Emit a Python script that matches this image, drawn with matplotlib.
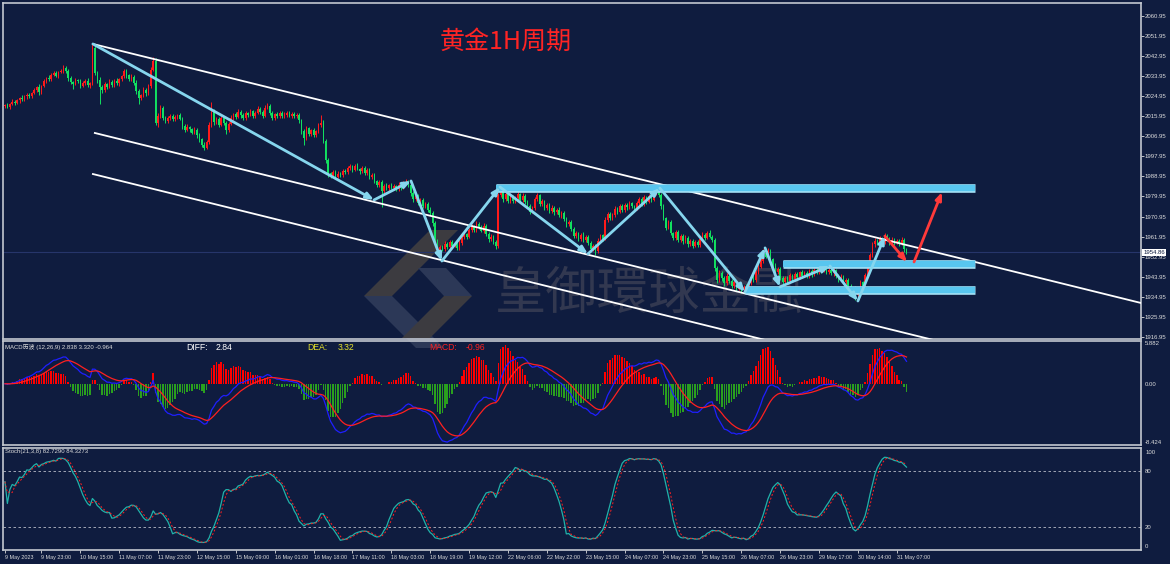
import numpy as np
import pandas as pd
import matplotlib
matplotlib.use('Agg')
import matplotlib.pyplot as plt
import matplotlib.transforms as mtransforms
from matplotlib.patches import Polygon

plt.rcParams['font.family'] = ['Liberation Sans', 'Noto Sans CJK SC', 'DejaVu Sans']

# ---------------- data: XAUUSD 1H, 9 May 08:00 -> 31 May 11:00 ----------------
closes = [
    2021.0, 2020.2, 2021.5, 2022.4, 2021.8, 2023.0, 2024.1, 2023.5, 2024.8, 2025.6,
    2025.0, 2026.3, 2027.5, 2028.9, 2026.8, 2029.5, 2031.8, 2033.2, 2032.4, 2034.6,
    2035.3, 2034.1, 2035.8, 2036.2, 2037.6, 2036.4, 2033.0, 2031.2, 2030.5, 2032.0,
    2031.5, 2029.6, 2030.8, 2031.9, 2029.8, 2030.6, 2046.5, 2035.5, 2032.2, 2029.0,
    2027.6, 2030.2, 2029.1, 2031.4, 2030.0, 2031.6, 2030.7, 2032.5, 2033.8, 2036.3,
    2034.2, 2032.5, 2033.6, 2031.0, 2027.3, 2024.1, 2025.5, 2027.8, 2026.2, 2029.4,
    2036.8, 2040.5, 2012.8, 2016.0, 2019.5, 2015.3, 2013.8, 2015.0, 2016.2, 2014.6,
    2015.5, 2016.4, 2014.8, 2011.5, 2009.8, 2011.2, 2010.0, 2008.6, 2009.9, 2007.5,
    2005.6, 2003.2, 2001.8, 2004.5, 2012.0, 2018.3, 2013.1, 2014.8, 2012.2, 2015.0,
    2013.0, 2009.8, 2012.5, 2015.2, 2016.8, 2015.6, 2017.9, 2016.4, 2015.0, 2017.2,
    2016.5, 2018.2, 2015.8, 2017.5, 2019.3, 2018.0, 2016.2, 2019.8, 2020.6, 2017.4,
    2015.2, 2016.8, 2016.0, 2017.4, 2015.9, 2016.6, 2017.5, 2016.1, 2017.0, 2015.8,
    2016.5, 2014.0, 2009.5, 2006.2, 2010.5, 2008.0, 2009.6, 2007.4, 2009.2, 2011.8,
    2013.0, 2004.8, 1996.2, 1990.5, 1989.2, 1991.0, 1988.8, 1990.2, 1989.4, 1991.5,
    1990.8, 1992.5, 1993.6, 1992.0, 1993.8, 1992.4, 1991.2, 1992.8, 1990.5, 1991.7,
    1988.5, 1989.6, 1986.8, 1985.2, 1986.4, 1982.5, 1984.8, 1983.6, 1985.0, 1983.9,
    1984.6, 1983.2, 1985.3, 1984.0, 1985.8, 1986.6, 1985.2, 1981.4, 1978.6, 1980.2,
    1977.0, 1978.5, 1975.8, 1976.6, 1974.0, 1972.5, 1968.0, 1960.5, 1955.8, 1957.2,
    1956.5, 1958.8, 1957.4, 1959.6, 1957.9, 1958.5, 1956.8, 1959.2, 1961.8, 1963.0,
    1962.0, 1964.8, 1966.2, 1965.0, 1967.8, 1966.3, 1964.5, 1966.9, 1963.2, 1960.8,
    1962.0, 1959.5, 1957.6, 1980.5, 1983.2, 1978.6, 1980.9, 1978.0, 1979.6, 1977.8,
    1979.2, 1981.0, 1978.5, 1980.3, 1977.6, 1975.8, 1973.2, 1975.0, 1978.8, 1980.4,
    1976.5, 1977.8, 1974.6, 1976.2, 1973.5, 1975.0, 1972.8, 1974.1, 1971.5, 1972.6,
    1969.8, 1967.5, 1968.6, 1965.4, 1962.2, 1963.5, 1961.0, 1962.8, 1960.6, 1961.9,
    1959.0, 1956.2, 1957.8, 1955.5, 1960.2, 1962.5, 1961.0, 1969.5, 1972.0, 1970.2,
    1971.8, 1974.5, 1973.2, 1975.6, 1974.0, 1976.2, 1975.1, 1976.8, 1975.5, 1974.6,
    1977.0, 1978.8, 1976.4, 1979.5, 1977.6, 1980.2, 1978.5, 1981.4, 1983.0, 1980.6,
    1975.5, 1970.2, 1966.0, 1968.4, 1963.5, 1961.2, 1964.0, 1960.5, 1962.4, 1959.8,
    1961.5, 1958.6, 1960.2, 1957.8, 1959.5, 1958.2, 1961.0, 1962.8, 1961.5, 1963.6,
    1962.0, 1960.5, 1948.0, 1942.5, 1945.8, 1943.2, 1941.0, 1944.5, 1942.0, 1939.8,
    1941.5, 1938.6, 1940.2, 1937.8, 1939.5, 1938.0, 1941.2, 1943.8, 1942.5, 1946.0,
    1948.5, 1951.2, 1954.8, 1953.0, 1955.5, 1951.8, 1949.0, 1946.2, 1947.5, 1943.5,
    1941.8, 1943.5, 1942.2, 1944.6, 1943.0, 1945.2, 1943.8, 1946.0, 1944.5, 1945.8,
    1944.2, 1946.5, 1945.0, 1947.2, 1946.0, 1948.1, 1946.8, 1947.5, 1945.9, 1947.0,
    1945.5, 1946.8, 1944.2, 1942.8, 1944.0, 1941.5, 1942.6, 1939.8, 1937.5, 1938.6,
    1936.0, 1938.2, 1941.5, 1940.0, 1944.8, 1949.5, 1953.8, 1958.5, 1960.2, 1959.0,
    1961.0, 1959.6, 1962.2, 1960.8, 1959.5, 1960.6, 1959.2, 1960.0, 1958.8, 1960.5,
    1956.2, 1954.86,
]
first_open = 2020.5

# upper / lower shadow length of each candle
wick_up = [
    0.6, 0.9, 0.5, 1.1, 0.7, 0.8, 0.4, 1.2, 0.6, 0.9,
    0.8, 0.5, 1.0, 0.7, 1.3, 0.6, 0.9, 0.5, 1.1, 0.8,
    0.7, 1.0, 0.6, 0.9, 1.4, 0.8, 0.5, 1.1, 0.7, 0.9,
    0.6, 1.0, 0.8, 0.5, 1.2, 0.7, 1.8, 1.5, 0.9, 1.1,
    0.8, 1.2, 0.6, 1.0, 0.7, 0.9, 1.3, 0.5, 0.8, 1.0,
    0.9, 0.6, 1.1, 0.7, 1.0, 0.8, 0.5, 1.2, 0.7, 0.9,
    1.0, 2.0, 1.5, 1.2, 1.6, 0.8, 0.6, 1.0, 0.7, 0.9,
    0.8, 0.6, 1.0, 0.7, 0.9, 1.1, 0.5, 0.8, 1.2, 0.6,
    0.9, 0.7, 1.0, 0.8, 1.4, 4.0, 1.0, 0.7, 0.9, 0.8,
    1.0, 0.6, 0.8, 1.1, 0.7, 0.9, 1.2, 0.6, 0.8, 1.0,
    0.7, 1.1, 0.6, 0.9, 1.3, 0.8, 0.5, 1.0, 1.4, 0.7,
    0.9, 0.6, 1.0, 0.7, 0.8, 1.1, 0.6, 0.9, 0.7, 1.0,
    0.8, 1.0, 0.7, 0.9, 1.2, 0.6, 0.8, 1.0, 0.7, 1.1,
    3.5, 1.2, 1.0, 0.8, 0.6, 0.9, 0.7, 1.0, 0.6, 0.8,
    0.7, 0.9, 1.1, 0.6, 0.8, 1.0, 0.5, 0.9, 0.7, 0.8,
    1.0, 0.7, 0.9, 0.6, 1.1, 0.8, 0.7, 1.0, 0.6, 0.9,
    0.8, 0.6, 1.0, 0.7, 0.9, 1.2, 0.8, 0.6, 0.9, 0.7,
    1.0, 0.8, 0.6, 0.9, 0.7, 1.1, 0.8, 1.0, 0.6, 1.2,
    0.9, 1.1, 0.7, 1.0, 0.8, 0.6, 0.9, 1.2, 0.8, 1.0,
    0.7, 1.0, 1.3, 0.8, 1.1, 0.6, 0.9, 1.0, 0.7, 0.8,
    0.9, 0.7, 0.8, 1.2, 1.6, 0.9, 1.1, 0.7, 1.0, 0.8,
    0.9, 1.2, 0.7, 1.0, 0.6, 0.8, 0.9, 0.7, 1.1, 1.0,
    0.8, 1.0, 0.7, 0.9, 0.6, 1.1, 0.8, 0.7, 1.0, 0.9,
    0.7, 1.0, 0.8, 0.6, 0.9, 1.1, 0.7, 0.8, 1.0, 0.6,
    0.8, 0.9, 0.7, 1.0, 1.2, 0.8, 0.6, 1.3, 1.0, 0.8,
    0.9, 1.1, 0.7, 1.0, 0.8, 0.9, 0.6, 1.0, 0.7, 0.8,
    1.0, 0.7, 0.9, 1.1, 0.8, 1.0, 0.7, 0.9, 1.2, 0.8,
    0.9, 1.0, 0.7, 1.2, 0.8, 0.6, 1.0, 0.7, 0.9, 0.8,
    1.0, 0.7, 0.9, 0.6, 1.1, 0.8, 1.0, 1.2, 0.7, 0.9,
    1.1, 0.8, 1.0, 0.7, 1.2, 0.6, 0.9, 1.0, 0.7, 0.8,
    0.9, 0.7, 1.0, 0.6, 0.8, 1.1, 0.9, 0.7, 1.0, 1.2,
    1.0, 1.3, 1.5, 0.8, 1.3, 0.9, 0.7, 1.0, 0.8, 0.9,
    0.8, 1.0, 0.7, 0.9, 0.6, 1.1, 0.8, 0.7, 1.0, 0.9,
    0.7, 1.0, 0.8, 0.9, 0.6, 1.1, 0.8, 1.0, 0.7, 0.9,
    0.8, 1.0, 0.7, 0.9, 1.1, 0.6, 0.8, 1.0, 0.7, 0.9,
    1.0, 0.8, 1.2, 0.7, 1.0, 1.3, 0.9, 1.1, 1.0, 0.8,
    1.2, 0.9, 1.3, 1.0, 0.8, 1.1, 0.9, 1.0, 0.7, 1.2,
    0.9, 0.8,
]
wick_dn = [
    0.8, 0.6, 1.0, 0.7, 0.9, 0.5, 1.1, 0.8, 0.6, 1.0,
    0.7, 1.0, 0.6, 0.9, 1.2, 0.8, 0.5, 1.0, 0.7, 0.9,
    0.8, 0.6, 1.0, 0.7, 0.9, 1.1, 1.4, 0.8, 2.2, 0.7,
    0.9, 1.2, 0.7, 1.0, 0.8, 1.1, 0.6, 1.2, 1.5, 7.5,
    1.4, 0.8, 1.1, 0.7, 1.0, 0.9, 0.6, 1.2, 0.8, 0.7,
    1.0, 0.8, 0.7, 1.1, 1.6, 2.6, 0.9, 0.8, 1.2, 0.7,
    0.9, 0.8, 1.0, 1.5, 0.9, 1.2, 0.8, 1.0, 0.7, 0.9,
    0.8, 1.0, 0.7, 1.1, 0.9, 0.6, 1.0, 0.8, 0.7, 1.2,
    1.4, 1.0, 1.2, 0.8, 0.9, 1.0, 1.1, 0.8, 1.0, 0.7,
    0.9, 1.8, 0.8, 0.7, 1.0, 0.9, 0.6, 1.1, 0.8, 0.7,
    1.0, 0.7, 0.9, 0.8, 0.6, 1.0, 0.9, 0.7, 0.8, 1.1,
    0.8, 0.9, 0.7, 1.0, 0.6, 0.8, 0.9, 0.7, 1.0, 0.8,
    0.7, 1.0, 1.5, 3.0, 0.9, 1.1, 0.8, 1.0, 0.7, 0.9,
    0.8, 1.0, 1.2, 2.0, 0.9, 0.7, 1.0, 0.8, 0.9, 0.7,
    0.8, 0.6, 0.9, 1.0, 0.7, 0.8, 1.1, 0.6, 0.9, 0.8,
    0.7, 0.9, 1.0, 0.8, 1.2, 7.3, 0.9, 0.8, 1.0, 0.7,
    0.9, 0.8, 0.7, 1.0, 0.6, 0.8, 0.9, 1.2, 1.0, 0.8,
    0.7, 1.0, 0.9, 0.8, 1.1, 1.0, 1.2, 1.4, 2.3, 1.0,
    0.8, 1.0, 0.9, 0.7, 1.1, 0.8, 1.0, 0.7, 0.9, 0.8,
    0.9, 0.7, 1.0, 0.8, 0.9, 1.1, 0.7, 0.8, 1.0, 1.2,
    1.0, 0.9, 1.3, 0.6, 0.8, 1.0, 0.7, 0.9, 0.8, 1.0,
    0.8, 0.7, 1.0, 0.9, 1.1, 0.8, 1.2, 0.7, 0.9, 0.8,
    1.0, 0.8, 0.9, 0.7, 1.1, 0.8, 1.0, 0.9, 0.7, 1.0,
    0.9, 1.1, 0.8, 1.0, 0.7, 0.9, 1.2, 0.8, 1.0, 0.9,
    1.0, 1.2, 0.8, 1.8, 0.9, 1.0, 0.8, 0.7, 0.9, 1.0,
    0.8, 0.9, 1.0, 0.7, 0.9, 0.8, 1.0, 0.7, 0.9, 1.1,
    0.8, 1.0, 0.9, 0.7, 1.0, 0.8, 1.1, 0.7, 0.9, 1.0,
    1.1, 1.0, 1.3, 0.8, 1.0, 0.9, 0.7, 1.1, 0.8, 1.0,
    0.9, 1.1, 0.8, 1.0, 0.7, 0.9, 0.8, 0.7, 1.0, 0.8,
    0.8, 1.0, 1.5, 1.2, 0.9, 1.0, 1.1, 0.8, 1.0, 0.9,
    1.0, 0.9, 0.8, 1.1, 0.7, 0.9, 0.8, 1.0, 0.7, 0.8,
    0.9, 0.8, 1.0, 0.7, 0.9, 1.1, 1.0, 0.8, 0.9, 1.2,
    1.0, 0.8, 0.9, 0.7, 1.0, 0.8, 0.9, 0.7, 1.0, 0.8,
    0.9, 0.7, 1.0, 0.8, 0.9, 0.7, 1.0, 0.8, 0.9, 0.7,
    0.8, 1.0, 0.9, 1.1, 0.7, 1.0, 0.8, 1.2, 1.0, 0.9,
    2.5, 1.0, 0.8, 1.1, 0.9, 1.0, 0.8, 0.9, 1.0, 0.8,
    0.9, 1.0, 0.8, 0.9, 1.1, 0.8, 1.0, 0.7, 0.9, 0.8,
    1.0, 0.9,
]

time_labels = ['9 May 2023', '9 May 23:00', '10 May 15:00', '11 May 07:00', '11 May 23:00',
               '12 May 15:00', '15 May 09:00', '16 May 01:00', '16 May 18:00', '17 May 11:00',
               '18 May 03:00', '18 May 19:00', '19 May 12:00', '22 May 06:00', '22 May 22:00',
               '23 May 15:00', '24 May 07:00', '24 May 23:00', '25 May 15:00', '26 May 07:00',
               '26 May 23:00', '29 May 17:00', '30 May 14:00', '31 May 07:00']
last_price = 1954.86

# hand drawn analysis objects, as (bar index, price)
zigzag = [(36.2, 2048.3), (151.9, 1978.4), (167.1, 1986.9), (179.8, 1951.0),
          (203.7, 1984.2), (239.9, 1954.2), (269.5, 1983.7), (304.5, 1937.1),
          (312.8, 1956.9), (318.9, 1939.4), (339.5, 1948.8), (351.0, 1933.1),
          (362.1, 1962.2)]
red_arrows = [((362.1, 1962.2), (371.2, 1950.6)), ((374.1, 1950.6), (385.6, 1981.9))]
channel = [((36.2, 2048.3), (467.5, 1932.2)),
           ((37.0, 2008.4), (400.0, 1910.8)),
           ((36.2, 1990.0), (330.0, 1911.0))]
levels = [(202.0, 399.2, 1983.7), (320.2, 399.2, 1949.7), (304.5, 399.2, 1938.0)]

assert len(closes) == len(wick_up) == len(wick_dn)

# ---------------- indicators ----------------
c = pd.Series(closes)
o = pd.Series([first_open] + closes[:-1])
h = pd.concat([o, c], axis=1).max(axis=1) + pd.Series(wick_up)
l = pd.concat([o, c], axis=1).min(axis=1) - pd.Series(wick_dn)
idx = np.arange(len(c))

diff = c.ewm(span=12, adjust=False).mean() - c.ewm(span=26, adjust=False).mean()
dea = diff.ewm(span=9, adjust=False).mean()
macd = 2 * (diff - dea)

hh = h.rolling(21, min_periods=1).max()
ll = l.rolling(21, min_periods=1).min()
stoch_k = 100 * (c - ll).rolling(8, min_periods=1).sum() / (hh - ll).rolling(8, min_periods=1).sum()
stoch_d = stoch_k.rolling(3, min_periods=1).mean()

# ---------------- figure ----------------
BG = '#0f1c3f'
FRAME = '#c3c7d0'
TXT = '#dcdcdc'
UP = '#ff1a1a'
DOWN = '#12e060'
CYAN = '#86d6ee'

fig = plt.figure(figsize=(11.7, 5.64), dpi=100, facecolor=BG)
W, H = 1170.0, 564.0

def fpx(x, y):
    return (x / W, 1 - y / H)

ax1 = fig.add_axes([3 / W, 1 - 339 / H, 1138 / W, 336 / H])
ax2 = fig.add_axes([3 / W, 1 - 445 / H, 1138 / W, 104 / H])
ax3 = fig.add_axes([3 / W, 1 - 550 / H, 1138 / W, 102 / H])

for ax in (ax1, ax2, ax3):
    ax.set_facecolor('none')
    ax.set_xlim(-0.8, 467.5)
    for s in ax.spines.values():
        s.set_color(FRAME)
        s.set_linewidth(1.2)
    ax.yaxis.tick_right()
    ax.tick_params(axis='y', colors=TXT, labelsize=4.3, length=2, width=0.6, pad=0.8)
    ax.tick_params(axis='x', bottom=False, labelbottom=False)

# watermark behind everything
wm_brown = '#3c3b40'
wm_blue = '#2c3857'
logo = [([(430, 230), (458, 230), (392, 296), (364, 296)], wm_brown),
        ([(364, 296), (392, 296), (444, 348), (416, 348)], wm_blue),
        ([(418, 268), (446, 268), (472, 296), (444, 296)], wm_blue),
        ([(444, 296), (472, 296), (430, 338), (402, 338)], wm_brown)]
for pts, col in logo:
    fig.add_artist(Polygon([fpx(x, y) for x, y in pts], closed=True, transform=fig.transFigure,
                           fc=col, ec='none', zorder=-2))
fig.text(649 / W, 1 - 294 / H, '皇御環球金融', fontsize=37, color='#323850', ha='center', va='center',
         family=['Noto Sans CJK TC'], zorder=-1)

# ---------------- price panel ----------------
ax1.set_ylim(1916.06, 2066.66)
ax1.set_yticks(np.arange(1916.95, 2061, 9.0))
ax1.set_yticklabels(['%.2f' % v for v in np.arange(1916.95, 2061, 9.0)])
ax1.axhline(last_price, color='#26356a', lw=0.8, zorder=0.5)

up = c >= o
cols = np.where(up, UP, DOWN)
ax1.vlines(idx, l, h, colors=cols, lw=0.7, zorder=2)
body_lo = np.minimum(o, c)
body_h = np.maximum(np.abs(c - o), 0.3)
ax1.bar(idx, body_h, bottom=body_lo, width=0.62, color=cols, lw=0, zorder=2)

for (x0, y0), (x1, y1) in channel:
    ax1.plot([x0, x1], [y0, y1], color='white', lw=1.3, zorder=3)

for x0, x1, y in levels:
    ax1.hlines(y, x0, x1, colors='#a7e3f7', lw=6.2, zorder=3)
    ax1.hlines(y, x0, x1, colors='#58c6ef', lw=4.6, zorder=3)

head = '-|>,head_length=0.55,head_width=0.22'
for k in range(len(zigzag) - 1):
    ax1.annotate('', xy=zigzag[k + 1], xytext=zigzag[k],
                 arrowprops=dict(arrowstyle=head, color=CYAN,
                                 lw=2.0, shrinkA=0, shrinkB=0, mutation_scale=8), zorder=4)
for p0, p1 in red_arrows:
    ax1.annotate('', xy=p1, xytext=p0,
                 arrowprops=dict(arrowstyle=head, color='#ff3a3a',
                                 lw=2.0, shrinkA=0, shrinkB=0, mutation_scale=8), zorder=4)

trans = mtransforms.blended_transform_factory(ax1.transAxes, ax1.transData)
ax1.text(1.002, last_price, '%.2f' % last_price, transform=trans, fontsize=4.3, color=BG,
         ha='left', va='center', bbox=dict(fc='white', ec='none', pad=0.6), zorder=6)

fig.text(506 / W, 1 - 42 / H, '黄金1H周期', fontsize=18, color='#ff2424', ha='center', va='center',
         family=['Noto Sans CJK SC'])

# ---------------- MACD panel ----------------
ax2.set_ylim(-8.424, 5.882)
ax2.bar(idx, macd.clip(lower=0), width=0.6, color='#ff0000', lw=0)
ax2.bar(idx, macd.clip(upper=0), width=0.6, color='#2aa01e', lw=0)
ax2.plot(idx, diff, color='#1f1fff', lw=0.9)
ax2.plot(idx, dea, color='#ff2020', lw=0.9)
ax2.set_yticks([5.882, 0.0, -8.424])
ax2.set_yticklabels(['5.882', '0.00', '-8.424'])
ax2.tick_params(axis='y', length=0, pad=3)
tl = ax2.get_yticklabels()
tl[0].set_va('top')
tl[2].set_va('bottom')

yh = 1 - 347 / H
fig.text(5 / W, yh, 'MACD历波 (12,26,9) 2.838 3.320 -0.964', fontsize=4.3, color=TXT, va='center')
fig.text(186 / W, yh, 'DIFF:', fontsize=6.2, color='white', va='center')
fig.text(216 / W, yh, '2.84', fontsize=6.2, color='white', va='center')
fig.text(307 / W, yh, 'DEA:', fontsize=6.2, color='#e6e22a', va='center')
fig.text(338 / W, yh, '3.32', fontsize=6.2, color='#e6e22a', va='center')
fig.text(429 / W, yh, 'MACD:', fontsize=6.2, color='#ff2020', va='center')
fig.text(466 / W, yh, '-0.96', fontsize=6.2, color='#ff2020', va='center')

# ---------------- Stochastic panel ----------------
ax3.set_ylim(-4.26, 104.26)
for lvl in (80, 20):
    ax3.axhline(lvl, color='#b8bcc8', lw=0.6, ls=(0, (3, 3)))
ax3.plot(idx, stoch_k, color='#20b2aa', lw=0.9)
ax3.plot(idx, stoch_d, color='#ff2020', lw=0.7, ls=(0, (2, 2)))
ax3.set_yticks([100, 80, 20, 0])
ax3.set_yticklabels(['100', '80', '20', '0'])
ax3.tick_params(axis='y', length=0, pad=3)
fig.text(5 / W, 1 - 452 / H, 'Stoch(21,3,8) 82.7290 84.3273', fontsize=4.3, color=TXT, va='center')

xt = [0] + [15 + 16 * k for k in range(len(time_labels) - 1)]
ax3.set_xticks(xt)
ax3.set_xticklabels(time_labels, ha='left')
ax3.tick_params(axis='x', bottom=True, labelbottom=True, colors=TXT, labelsize=3.9,
                length=2.5, width=0.6, pad=1)

fig.savefig('out.png', dpi=100, facecolor=BG)
